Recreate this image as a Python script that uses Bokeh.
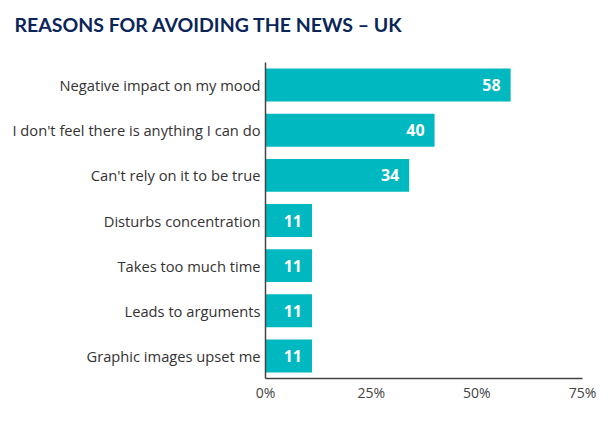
from bokeh.plotting import figure
from bokeh.models import ColumnDataSource, FactorRange, Range1d, FixedTicker, LabelSet
from bokeh.core.properties import value
from bokeh.embed import file_html
from bokeh.resources import INLINE

title_text = "REASONS FOR AVOIDING THE NEWS – UK"
categories = [
    "Negative impact on my mood",
    "I don't feel there is anything I can do",
    "Can't rely on it to be true",
    "Disturbs concentration",
    "Takes too much time",
    "Leads to arguments",
    "Graphic images upset me",
]
values = [58, 40, 34, 11, 11, 11, 11]
tick_values = [0, 25, 50, 75]
tick_labels = ["0%", "25%", "50%", "75%"]

source = ColumnDataSource(dict(cat=categories, val=values, lab=[str(v) for v in values]))

p = figure(
    width=601, height=410,
    y_range=FactorRange(factors=list(reversed(categories)), range_padding=0),
    x_range=Range1d(0, 75),
    output_backend="svg", toolbar_location=None,
    min_border_left=265, min_border_right=19, min_border_top=62, min_border_bottom=32,
    title=title_text + "\n ",
)
p.title.text_font = "Lato"
p.title.text_font_size = "19.5px"
p.title.text_font_style = "bold"
p.title.text_color = "#0b2559"
p.title.align = "left"
p.title.vertical_align = "top"
p.title.offset = -251
p.title.standoff = 3

p.hbar(y="cat", right="val", height=0.73, source=source, color="#00B8C0", line_color=None)

labels = LabelSet(x="val", y="cat", text="lab", source=source, text_align="right",
                  text_baseline="middle", x_offset=-10, text_color="white",
                  text_font=value("Open Sans"), text_font_size="16px", text_font_style="bold")
p.add_layout(labels)

p.xgrid.visible = False
p.ygrid.visible = False
p.outline_line_color = None

p.xaxis.ticker = FixedTicker(ticks=tick_values)
p.xaxis.major_label_overrides = {t: l for t, l in zip(tick_values, tick_labels)}
p.xaxis.major_tick_line_color = None
p.xaxis.major_tick_out = 0
p.xaxis.major_tick_in = 0
p.xaxis.minor_tick_line_color = None
p.xaxis.axis_line_color = "#444444"
p.xaxis.axis_line_width = 1.5
p.xaxis.major_label_text_font = "Open Sans"
p.xaxis.major_label_text_font_size = "14px"
p.xaxis.major_label_text_color = "#444444"
p.xaxis.major_label_standoff = 4

p.yaxis.major_tick_line_color = None
p.yaxis.major_tick_out = 0
p.yaxis.major_tick_in = 0
p.yaxis.minor_tick_line_color = None
p.yaxis.axis_line_color = "#444444"
p.yaxis.axis_line_width = 1.5
p.yaxis.major_label_text_font = "Open Sans"
p.yaxis.major_label_text_font_size = "14.7px"
p.yaxis.major_label_text_color = "#333333"
p.yaxis.major_label_standoff = 5

open("out.html", "w").write(file_html(p, INLINE))
